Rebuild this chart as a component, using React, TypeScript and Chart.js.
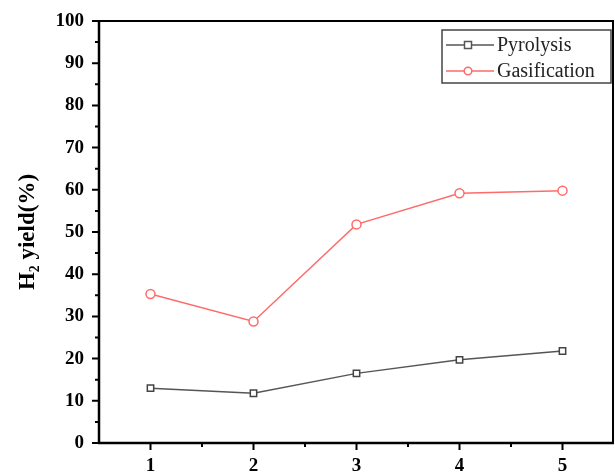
import React, { useEffect, useRef } from "react";
import { Chart, registerables } from "chart.js";

Chart.register(...registerables);

const categories = ["1", "2", "3", "4", "5"];
const pyrolysis = [13.0, 11.8, 16.5, 19.7, 21.8];
const gasification = [35.3, 28.8, 51.8, 59.2, 59.8];
const seriesNames = ["Pyrolysis", "Gasification"];
const yTicks = { min: 0, max: 100, step: 10 };

const GRAY = "#555555";
const RED = "#ff6b6b";
const FONT = "'Liberation Serif', 'Times New Roman', serif";

const framePlugin = {
  id: "frame",
  afterDraw(chart: any) {
    const { ctx, chartArea } = chart;
    const { left, right, top, bottom } = chartArea;
    const xs = chart.scales.x;
    const ys = chart.scales.y;
    ctx.save();
    ctx.strokeStyle = "#000";
    ctx.lineCap = "butt";
    // frame top & right
    ctx.lineWidth = 2;
    ctx.beginPath();
    ctx.moveTo(left, top);
    ctx.lineTo(right, top);
    ctx.moveTo(right - 1, top);
    ctx.lineTo(right - 1, bottom);
    ctx.stroke();
    // axes
    ctx.lineWidth = 2.5;
    ctx.beginPath();
    ctx.moveTo(left, top - 1);
    ctx.lineTo(left, bottom + 1);
    ctx.moveTo(left - 1, bottom);
    ctx.lineTo(right, bottom);
    ctx.stroke();
    // y ticks
    ctx.lineWidth = 2;
    ctx.beginPath();
    for (let v = yTicks.min; v <= yTicks.max; v += yTicks.step / 2) {
      const y = ys.getPixelForValue(v);
      const major = v % yTicks.step === 0;
      ctx.moveTo(left, y);
      ctx.lineTo(left - (major ? 7 : 4), y);
    }
    // x ticks
    for (let i = 0; i < categories.length; i++) {
      const x = xs.getPixelForValue(i);
      ctx.moveTo(x, bottom);
      ctx.lineTo(x, bottom + 7);
      if (i < categories.length - 1) {
        const xm = (x + xs.getPixelForValue(i + 1)) / 2;
        ctx.moveTo(xm, bottom);
        ctx.lineTo(xm, bottom + 4);
      }
    }
    ctx.stroke();

    // legend
    const bx = 442, by = 30, bw = 169, bh = 53;
    ctx.lineWidth = 1.5;
    ctx.strokeStyle = "#444";
    ctx.strokeRect(bx, by, bw, bh);
    const rows = [
      { name: seriesNames[0], color: GRAY, marker: "rect", y: 45 },
      { name: seriesNames[1], color: RED, marker: "circle", y: 71 },
    ];
    ctx.font = `20px ${FONT}`;
    ctx.textBaseline = "middle";
    for (const r of rows) {
      ctx.strokeStyle = r.color;
      ctx.lineWidth = 1.5;
      ctx.beginPath();
      ctx.moveTo(446, r.y);
      ctx.lineTo(464, r.y);
      ctx.moveTo(472, r.y);
      ctx.lineTo(494, r.y);
      ctx.stroke();
      ctx.fillStyle = "#fff";
      if (r.marker === "rect") {
        ctx.fillRect(464.5, r.y - 3.5, 7, 7);
        ctx.strokeRect(464.5, r.y - 3.5, 7, 7);
      } else {
        ctx.beginPath();
        ctx.arc(468, r.y, 3.8, 0, Math.PI * 2);
        ctx.fill();
        ctx.stroke();
      }
      ctx.fillStyle = "#222";
      ctx.fillText(r.name, 497, r.y + 1);
    }
    ctx.restore();
  },
};

export default function App() {
  const ref = useRef<HTMLCanvasElement>(null);
  useEffect(() => {
    document.body.style.margin = "0";
    const chart = new Chart(ref.current!, {
      type: "line",
      data: {
        labels: categories,
        datasets: [
          {
            label: seriesNames[0],
            data: pyrolysis,
            borderColor: GRAY,
            backgroundColor: "#fff",
            borderWidth: 1.5,
            pointStyle: "rect",
            pointRadius: 4.5,
            pointBorderWidth: 1.5,
            pointBorderColor: "#444",
          },
          {
            label: seriesNames[1],
            data: gasification,
            borderColor: RED,
            backgroundColor: "#fff",
            borderWidth: 1.5,
            pointStyle: "circle",
            pointRadius: 4.5,
            pointBorderWidth: 1.5,
            pointBorderColor: RED,
          },
        ],
      },
      options: {
        responsive: false,
        animation: false,
        layout: { autoPadding: false, padding: { top: 21, right: 1, left: 0, bottom: 0 } },
        plugins: { legend: { display: false }, tooltip: { enabled: false } },
        scales: {
          x: {
            offset: true,
            grid: { display: false, drawTicks: true, tickLength: 8 },
            border: { display: false },
            ticks: {
              padding: 4,
              color: "#000",
              font: { family: FONT, size: 19, weight: "bold" },
            },
            afterFit: (s: any) => {
              s.height = 29;
            },
          },
          y: {
            min: yTicks.min,
            max: yTicks.max,
            grid: { display: false, drawTicks: true, tickLength: 8 },
            border: { display: false },
            ticks: {
              stepSize: yTicks.step,
              padding: 7,
              color: "#000",
              font: { family: FONT, size: 19, weight: "bold" },
            },
            title: {
              display: true,
              text: "H\u2082 yield(%)",
              color: "#000",
              font: { family: FONT, size: 23, weight: "bold" },
              padding: { top: 14, bottom: 0 },
            },
            afterFit: (s: any) => {
              s.width = 99;
            },
          },
        },
      },
      plugins: [framePlugin],
    });
    return () => chart.destroy();
  }, []);
  return <canvas ref={ref} width={615} height={472} />;
}
